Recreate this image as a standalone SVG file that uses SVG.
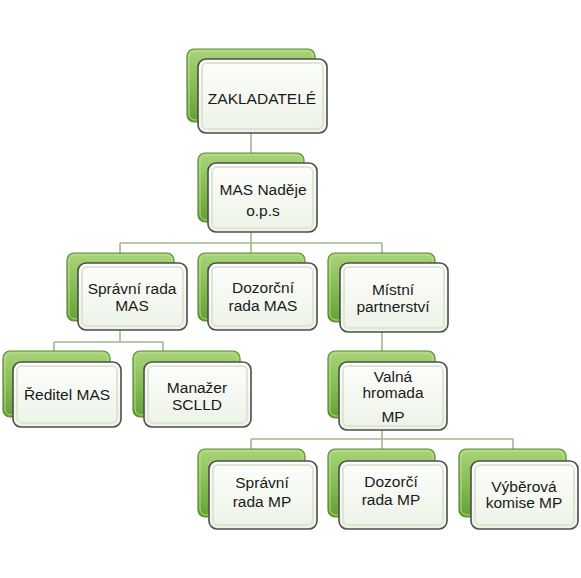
<svg xmlns="http://www.w3.org/2000/svg" width="581" height="578" viewBox="0 0 581 578">
<defs>
<linearGradient id="gb" x1="0" y1="0" x2="0" y2="1">
<stop offset="0" stop-color="#a9d478"/>
<stop offset="0.5" stop-color="#86bd55"/>
<stop offset="1" stop-color="#64a034"/>
</linearGradient>
<linearGradient id="gf" x1="0" y1="0" x2="0" y2="1">
<stop offset="0" stop-color="#fdfefc"/>
<stop offset="1" stop-color="#edf3e7"/>
</linearGradient>
</defs>
<style>
.back{fill:url(#gb);stroke:#5a8a30;stroke-width:1.2}
.backi{fill:none;stroke:#c3e39f;stroke-width:1;opacity:0.8}
.front{fill:url(#gf);stroke:#4d4d4d;stroke-width:1.6}
.fronti{fill:none;stroke:#dde6d4;stroke-width:2}
.c{fill:none;stroke:#a3b78e;stroke-width:1.6}
text{font-family:"Liberation Sans",Arial,sans-serif;font-size:15.5px;fill:#1a1a1a;text-anchor:middle}
</style>
<rect width="581" height="578" fill="#ffffff"/>
<g id="connectors">
<path class="c" d="M251 133V153"/>
<path class="c" d="M251 232V243M120 243H382M120 243V253M251 243V253M382 243V253"/>
<path class="c" d="M120 330V342M54 342H163M54 342V351M163 342V351"/>
<path class="c" d="M382 332V351"/>
<path class="c" d="M382 430V439M251 439H513M251 439V449M382 439V449M513 439V449"/>
</g>
<g id="n-zakladatele">
<rect class="back" x="187" y="49" width="128" height="73" rx="7"/>
<rect class="backi" x="189" y="51" width="124" height="69" rx="6"/>
<rect class="front" x="198" y="59" width="129" height="74" rx="8"/>
<rect class="fronti" x="202" y="63" width="121" height="66" rx="5"/>
<text x="262" y="104">ZAKLADATELÉ</text>
</g>
<g id="n-mas">
<rect class="back" x="198" y="153" width="106" height="69" rx="7"/>
<rect class="backi" x="200" y="155" width="102" height="65" rx="6"/>
<rect class="front" x="208" y="163" width="109" height="69" rx="8"/>
<rect class="fronti" x="212" y="167" width="101" height="61" rx="5"/>
<text x="263" y="195">MAS Naděje</text>
<text x="263" y="216">o.p.s</text>
</g>
<g id="n-spravni-mas">
<rect class="back" x="67" y="253" width="107" height="68" rx="7"/>
<rect class="backi" x="69" y="255" width="103" height="64" rx="6"/>
<rect class="front" x="78" y="263" width="109" height="67" rx="8"/>
<rect class="fronti" x="82" y="267" width="101" height="59" rx="5"/>
<text x="132" y="294">Správní rada</text>
<text x="132" y="311">MAS</text>
</g>
<g id="n-dozorci-mas">
<rect class="back" x="198" y="253" width="107" height="68" rx="7"/>
<rect class="backi" x="200" y="255" width="103" height="64" rx="6"/>
<rect class="front" x="208" y="263" width="109" height="67" rx="8"/>
<rect class="fronti" x="212" y="267" width="101" height="59" rx="5"/>
<text x="263" y="293">Dozorční</text>
<text x="263" y="311">rada MAS</text>
</g>
<g id="n-mistni">
<rect class="back" x="328" y="253" width="107" height="69" rx="7"/>
<rect class="backi" x="330" y="255" width="103" height="65" rx="6"/>
<rect class="front" x="340" y="263" width="108" height="69" rx="8"/>
<rect class="fronti" x="344" y="267" width="100" height="61" rx="5"/>
<text x="393" y="295">Místní</text>
<text x="393" y="312">partnerství</text>
</g>
<g id="n-reditel">
<rect class="back" x="3" y="351" width="107" height="66" rx="7"/>
<rect class="backi" x="5" y="353" width="103" height="62" rx="6"/>
<rect class="front" x="13" y="362" width="108" height="65" rx="8"/>
<rect class="fronti" x="17" y="366" width="100" height="57" rx="5"/>
<text x="67" y="400">Ředitel MAS</text>
</g>
<g id="n-manazer">
<rect class="back" x="133" y="351" width="107" height="66" rx="7"/>
<rect class="backi" x="135" y="353" width="103" height="62" rx="6"/>
<rect class="front" x="144" y="362" width="107" height="65" rx="8"/>
<rect class="fronti" x="148" y="366" width="99" height="57" rx="5"/>
<text x="197" y="393">Manažer</text>
<text x="197" y="410">SCLLD</text>
</g>
<g id="n-valna">
<rect class="back" x="328" y="351" width="107" height="67" rx="7"/>
<rect class="backi" x="330" y="353" width="103" height="63" rx="6"/>
<rect class="front" x="339" y="362" width="108" height="68" rx="8"/>
<rect class="fronti" x="343" y="366" width="100" height="60" rx="5"/>
<text x="393" y="382">Valná</text>
<text x="393" y="398">hromada</text>
<text x="393" y="422">MP</text>
</g>
<g id="n-spravni-mp">
<rect class="back" x="198" y="449" width="107" height="68" rx="7"/>
<rect class="backi" x="200" y="451" width="103" height="64" rx="6"/>
<rect class="front" x="209" y="461" width="108" height="68" rx="8"/>
<rect class="fronti" x="213" y="465" width="100" height="60" rx="5"/>
<text x="262" y="488">Správní</text>
<text x="262" y="507">rada MP</text>
</g>
<g id="n-dozorci-mp">
<rect class="back" x="328" y="449" width="107" height="68" rx="7"/>
<rect class="backi" x="330" y="451" width="103" height="64" rx="6"/>
<rect class="front" x="339" y="461" width="108" height="68" rx="8"/>
<rect class="fronti" x="343" y="465" width="100" height="60" rx="5"/>
<text x="391" y="487">Dozorčí</text>
<text x="391" y="505">rada MP</text>
</g>
<g id="n-vyberova">
<rect class="back" x="459" y="449" width="107" height="68" rx="7"/>
<rect class="backi" x="461" y="451" width="103" height="64" rx="6"/>
<rect class="front" x="471" y="461" width="107" height="68" rx="8"/>
<rect class="fronti" x="475" y="465" width="99" height="60" rx="5"/>
<text x="524" y="492">Výběrová</text>
<text x="524" y="508">komise MP</text>
</g>
</svg>
